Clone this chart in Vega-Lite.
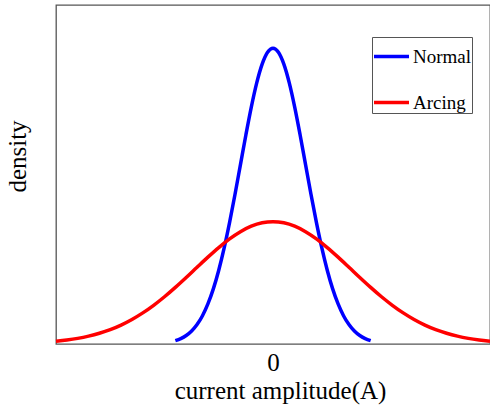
{
  "$schema": "https://vega.github.io/schema/vega-lite/v6.json",
  "width": 434,
  "height": 339,
  "autosize": {"type": "none"},
  "padding": {"left": 56, "top": 5, "right": 0, "bottom": 65},
  "background": "white",
  "config": {
    "view": {"stroke": "#555555", "strokeWidth": 1.3},
    "font": "Liberation Serif"
  },
  "data": {
    "values": [
      {"series": "Normal", "x": -1.8, "y": 0.0074},
      {"series": "Normal", "x": -1.7, "y": 0.0120},
      {"series": "Normal", "x": -1.6, "y": 0.0190},
      {"series": "Normal", "x": -1.5, "y": 0.0292},
      {"series": "Normal", "x": -1.4, "y": 0.0437},
      {"series": "Normal", "x": -1.3, "y": 0.0636},
      {"series": "Normal", "x": -1.2, "y": 0.0900},
      {"series": "Normal", "x": -1.1, "y": 0.1239},
      {"series": "Normal", "x": -1.0, "y": 0.1659},
      {"series": "Normal", "x": -0.9, "y": 0.2159},
      {"series": "Normal", "x": -0.8, "y": 0.2734},
      {"series": "Normal", "x": -0.7, "y": 0.3367},
      {"series": "Normal", "x": -0.6, "y": 0.4033},
      {"series": "Normal", "x": -0.5, "y": 0.4699},
      {"series": "Normal", "x": -0.4, "y": 0.5325},
      {"series": "Normal", "x": -0.3, "y": 0.5869},
      {"series": "Normal", "x": -0.2, "y": 0.6291},
      {"series": "Normal", "x": -0.1, "y": 0.6558},
      {"series": "Normal", "x": 0.0, "y": 0.6650},
      {"series": "Normal", "x": 0.1, "y": 0.6558},
      {"series": "Normal", "x": 0.2, "y": 0.6291},
      {"series": "Normal", "x": 0.3, "y": 0.5869},
      {"series": "Normal", "x": 0.4, "y": 0.5325},
      {"series": "Normal", "x": 0.5, "y": 0.4699},
      {"series": "Normal", "x": 0.6, "y": 0.4033},
      {"series": "Normal", "x": 0.7, "y": 0.3367},
      {"series": "Normal", "x": 0.8, "y": 0.2734},
      {"series": "Normal", "x": 0.9, "y": 0.2159},
      {"series": "Normal", "x": 1.0, "y": 0.1659},
      {"series": "Normal", "x": 1.1, "y": 0.1239},
      {"series": "Normal", "x": 1.2, "y": 0.0900},
      {"series": "Normal", "x": 1.3, "y": 0.0636},
      {"series": "Normal", "x": 1.4, "y": 0.0437},
      {"series": "Normal", "x": 1.5, "y": 0.0292},
      {"series": "Normal", "x": 1.6, "y": 0.0190},
      {"series": "Normal", "x": 1.7, "y": 0.0120},
      {"series": "Normal", "x": 1.8, "y": 0.0074},
      {"series": "Arcing", "x": -4.0, "y": 0.0061},
      {"series": "Arcing", "x": -3.8, "y": 0.0089},
      {"series": "Arcing", "x": -3.6, "y": 0.0126},
      {"series": "Arcing", "x": -3.4, "y": 0.0176},
      {"series": "Arcing", "x": -3.2, "y": 0.0241},
      {"series": "Arcing", "x": -3.0, "y": 0.0323},
      {"series": "Arcing", "x": -2.8, "y": 0.0426},
      {"series": "Arcing", "x": -2.6, "y": 0.0551},
      {"series": "Arcing", "x": -2.4, "y": 0.0699},
      {"series": "Arcing", "x": -2.2, "y": 0.0870},
      {"series": "Arcing", "x": -2.0, "y": 0.1062},
      {"series": "Arcing", "x": -1.8, "y": 0.1273},
      {"series": "Arcing", "x": -1.6, "y": 0.1496},
      {"series": "Arcing", "x": -1.4, "y": 0.1726},
      {"series": "Arcing", "x": -1.2, "y": 0.1953},
      {"series": "Arcing", "x": -1.0, "y": 0.2168},
      {"series": "Arcing", "x": -0.8, "y": 0.2362},
      {"series": "Arcing", "x": -0.6, "y": 0.2524},
      {"series": "Arcing", "x": -0.4, "y": 0.2647},
      {"series": "Arcing", "x": -0.2, "y": 0.2724},
      {"series": "Arcing", "x": 0.0, "y": 0.2750},
      {"series": "Arcing", "x": 0.2, "y": 0.2724},
      {"series": "Arcing", "x": 0.4, "y": 0.2647},
      {"series": "Arcing", "x": 0.6, "y": 0.2524},
      {"series": "Arcing", "x": 0.8, "y": 0.2362},
      {"series": "Arcing", "x": 1.0, "y": 0.2168},
      {"series": "Arcing", "x": 1.2, "y": 0.1953},
      {"series": "Arcing", "x": 1.4, "y": 0.1726},
      {"series": "Arcing", "x": 1.6, "y": 0.1496},
      {"series": "Arcing", "x": 1.8, "y": 0.1273},
      {"series": "Arcing", "x": 2.0, "y": 0.1062},
      {"series": "Arcing", "x": 2.2, "y": 0.0870},
      {"series": "Arcing", "x": 2.4, "y": 0.0699},
      {"series": "Arcing", "x": 2.6, "y": 0.0551},
      {"series": "Arcing", "x": 2.8, "y": 0.0426},
      {"series": "Arcing", "x": 3.0, "y": 0.0323},
      {"series": "Arcing", "x": 3.2, "y": 0.0241},
      {"series": "Arcing", "x": 3.4, "y": 0.0176},
      {"series": "Arcing", "x": 3.6, "y": 0.0126},
      {"series": "Arcing", "x": 3.8, "y": 0.0089},
      {"series": "Arcing", "x": 4.0, "y": 0.0061}
    ]
  },
  "mark": {"type": "line", "strokeWidth": 3.5, "interpolate": "monotone"},
  "encoding": {
    "x": {
      "field": "x",
      "type": "quantitative",
      "scale": {"domain": [-4, 4], "nice": false, "zero": false},
      "axis": {
        "values": [0],
        "title": "current amplitude(A)",
        "grid": false,
        "ticks": false,
        "domain": false,
        "labelFont": "Liberation Serif",
        "labelFontSize": 25,
        "labelColor": "black",
        "labelPadding": 6,
        "titleFont": "Liberation Serif",
        "titleFontSize": 25,
        "titleFontWeight": "normal",
        "titleColor": "black",
        "titlePadding": 3,
        "titleX": 224
      }
    },
    "y": {
      "field": "y",
      "type": "quantitative",
      "scale": {"domain": [0, 0.762], "nice": false},
      "axis": {
        "labels": false,
        "ticks": false,
        "grid": false,
        "domain": false,
        "title": "density",
        "titleFont": "Liberation Serif",
        "titleFontSize": 25,
        "titleFontWeight": "normal",
        "titleColor": "black",
        "titlePadding": 26,
        "titleY": 151
      }
    },
    "color": {
      "field": "series",
      "type": "nominal",
      "scale": {"domain": ["Normal", "Arcing"], "range": ["#0000ff", "#ff0000"]},
      "legend": {
        "title": null,
        "orient": "none",
        "legendX": 316,
        "legendY": 32,
        "symbolType": "stroke",
        "symbolSize": 1225,
        "symbolStrokeWidth": 3.5,
        "labelFont": "Liberation Serif",
        "labelFontSize": 19,
        "labelColor": "black",
        "labelOffset": 2,
        "rowPadding": 16,
        "padding": 0,
        "strokeColor": "#555555",
        "fillColor": "white"
      }
    }
  }
}
